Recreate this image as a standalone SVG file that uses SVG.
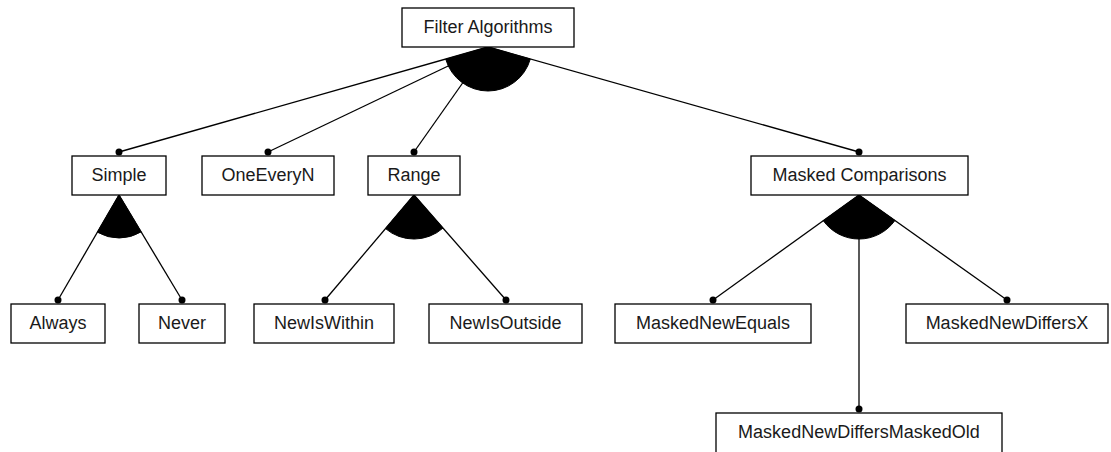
<svg xmlns="http://www.w3.org/2000/svg" width="1111" height="452" viewBox="0 0 1111 452">
<style>
.box{fill:#fff;stroke:#000;stroke-width:1.3}
.lbl{font-family:"Liberation Sans",Arial,sans-serif;font-size:18px;fill:#1a1a1a;text-anchor:middle}
.edge{stroke:#000;stroke-width:1.3;fill:none}
.dot{fill:#000}
.wedge{fill:#000;stroke:#000;stroke-width:1}
</style>
<rect width="1111" height="452" fill="#fff"/>
<g id="connectors">
<line class="edge" x1="488" y1="47" x2="119" y2="152"/>
<line class="edge" x1="488" y1="47" x2="268" y2="152"/>
<line class="edge" x1="488" y1="47" x2="414" y2="152"/>
<line class="edge" x1="488" y1="47" x2="859" y2="152"/>
<path class="wedge" d="M488,47 L445.74,59.25 A44,44 0 0 0 530.31,59.09 Z"/>
<circle class="dot" cx="119" cy="152" r="3.5"/>
<circle class="dot" cx="268" cy="152" r="3.5"/>
<circle class="dot" cx="414" cy="152" r="3.5"/>
<circle class="dot" cx="859" cy="152" r="3.5"/>
<line class="edge" x1="119" y1="195" x2="58" y2="300"/>
<line class="edge" x1="119" y1="195" x2="182" y2="300"/>
<path class="wedge" d="M119,195 L97.4,232.2 A43,43 0 0 0 141.1,231.9 Z"/>
<circle class="dot" cx="58" cy="300" r="3.5"/>
<circle class="dot" cx="182" cy="300" r="3.5"/>
<line class="edge" x1="414" y1="195" x2="325" y2="300"/>
<line class="edge" x1="414" y1="195" x2="506" y2="300"/>
<path class="wedge" d="M414,195 L385.5,228.6 A44,44 0 0 0 443,228.1 Z"/>
<circle class="dot" cx="325" cy="300" r="3.5"/>
<circle class="dot" cx="506" cy="300" r="3.5"/>
<line class="edge" x1="859" y1="195" x2="713" y2="300"/>
<line class="edge" x1="859" y1="195" x2="859" y2="409"/>
<line class="edge" x1="859" y1="195" x2="1007" y2="300"/>
<path class="wedge" d="M859,195 L823.3,220.7 A44,44 0 0 0 894.9,220.5 Z"/>
<circle class="dot" cx="713" cy="300" r="3.5"/>
<circle class="dot" cx="859" cy="409" r="3.5"/>
<circle class="dot" cx="1007" cy="300" r="3.5"/>
</g>
<g id="filter-algorithms"><rect class="box" x="402" y="8" width="172" height="39"/><text class="lbl" x="488" y="33">Filter Algorithms</text></g>
<g id="simple"><rect class="box" x="72" y="156" width="94" height="39"/><text class="lbl" x="119" y="181">Simple</text></g>
<g id="oneeveryn"><rect class="box" x="202" y="156" width="132" height="39"/><text class="lbl" x="268" y="181">OneEveryN</text></g>
<g id="range"><rect class="box" x="368" y="156" width="92" height="39"/><text class="lbl" x="414" y="181">Range</text></g>
<g id="masked-comparisons"><rect class="box" x="751" y="156" width="217" height="39"/><text class="lbl" x="859.5" y="181">Masked Comparisons</text></g>
<g id="always"><rect class="box" x="11" y="304" width="94" height="39"/><text class="lbl" x="58" y="329">Always</text></g>
<g id="never"><rect class="box" x="139" y="304" width="86" height="39"/><text class="lbl" x="182" y="329">Never</text></g>
<g id="newiswithin"><rect class="box" x="254" y="304" width="140" height="39"/><text class="lbl" x="324" y="329">NewIsWithin</text></g>
<g id="newisoutside"><rect class="box" x="429" y="304" width="153" height="39"/><text class="lbl" x="505.5" y="329">NewIsOutside</text></g>
<g id="maskednewequals"><rect class="box" x="615" y="304" width="196" height="39"/><text class="lbl" x="713" y="329">MaskedNewEquals</text></g>
<g id="maskednewdiffersx"><rect class="box" x="906" y="304" width="202" height="39"/><text class="lbl" x="1007" y="329">MaskedNewDiffersX</text></g>
<g id="maskednewdiffersmaskedold"><rect class="box" x="716" y="413" width="286" height="42"/><text class="lbl" x="859" y="438">MaskedNewDiffersMaskedOld</text></g>
</svg>
